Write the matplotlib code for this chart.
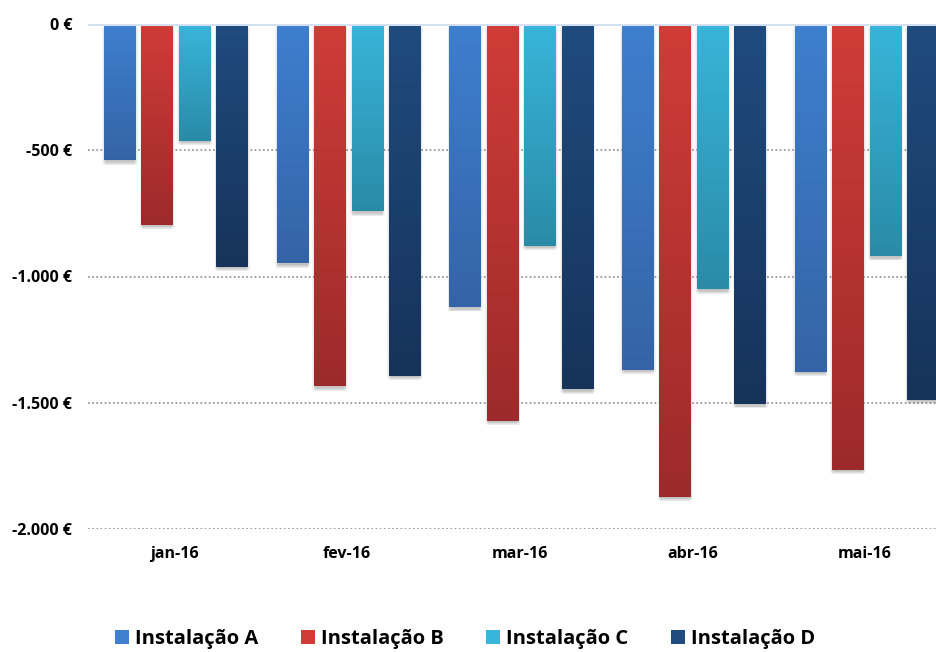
import numpy as np
import matplotlib
matplotlib.use("Agg")
import matplotlib.pyplot as plt
from matplotlib.colors import LinearSegmentedColormap
from matplotlib.patches import Patch
import matplotlib.patheffects as pe

plt.rcParams['font.family'] = ['Open Sans', 'DejaVu Sans']

categories = ["jan-16", "fev-16", "mar-16", "abr-16", "mai-16"]
series_names = ["Instalação A", "Instalação B", "Instalação C", "Instalação D"]
inst_a = [-539, -947, -1121, -1370, -1378]
inst_b = [-796, -1434, -1572, -1873, -1766]
inst_c = [-463, -741, -879, -1050, -919]
inst_d = [-962, -1394, -1446, -1505, -1489]
series_values = [inst_a, inst_b, inst_c, inst_d]
y_ticks = [0, -500, -1000, -1500, -2000]
y_tick_labels = ["0 €", "-500 €", "-1.000 €", "-1.500 €", "-2.000 €"]

top_colors = ["#3e7fcf", "#d03c38", "#38b5da", "#1f4b7e"]
bot_colors = ["#3464a6", "#9c2a2a", "#2a8ba7", "#16335a"]

W, H = 937, 652
fig = plt.figure(figsize=(W/100, H/100), dpi=100)
ax = fig.add_axes([88/W, (H-529)/H, 863.5/W, 505/H])

x = np.arange(len(categories))
step = 0.217
bw = 0.185
offsets = (np.arange(4) - 1.5) * step + 0.01

shadow_fx = [pe.SimplePatchShadow(offset=o, shadow_rgbFace='#000000', alpha=0.045)
             for o in [(0, -1), (0, -2.5), (-1.2, -1.8), (1.2, -1.8), (-0.6, -3.2), (0.6, -3.2)]]

for i, vals in enumerate(series_values):
    bars = ax.bar(x + offsets[i], vals, width=bw, color=top_colors[i], zorder=3,
                  label=series_names[i], linewidth=0,
                  path_effects=shadow_fx + [pe.Normal()])
    cmap = LinearSegmentedColormap.from_list("g%d" % i, [top_colors[i], bot_colors[i]])
    grad = np.linspace(0, 1, 256).reshape(-1, 1)
    for b in bars:
        x0 = b.get_x(); x1 = x0 + b.get_width()
        h = b.get_height()
        ax.imshow(grad, extent=[x0, x1, h, 0], origin='upper', aspect='auto',
                  cmap=cmap, zorder=4, interpolation='bilinear')

for t in y_ticks[1:]:
    ax.axhline(t, color='#8c8c8c', linestyle=(0, (1, 1.5)), linewidth=1.2, zorder=1)
ax.axhline(0, color='#d3e0f1', linewidth=2.2, zorder=5)

ax.set_xlim(-0.5, len(categories) - 0.5)
ax.set_ylim(-2000, 0)
ax.set_yticks(y_ticks)
ax.set_yticklabels(y_tick_labels, fontsize=11.5, fontweight='bold')
ax.set_xticks(x)
ax.set_xticklabels(categories, fontsize=11.5, fontweight='bold')
ax.tick_params(axis='both', length=0)
ax.tick_params(axis='y', pad=11.5)
ax.tick_params(axis='x', pad=12)
for s in ax.spines.values():
    s.set_visible(False)

handles = [Patch(facecolor=top_colors[i], edgecolor='none') for i in range(4)]
leg = fig.legend(handles, series_names, loc='center', bbox_to_anchor=(465/W, 1 - 639/H),
                 ncol=4, frameon=False, prop={'weight': 'bold', 'size': 14.5},
                 handlelength=0.7, handleheight=0.7, handletextpad=0.3, columnspacing=2.1,
                 borderpad=0)

fig.savefig("out.png", dpi=100)
